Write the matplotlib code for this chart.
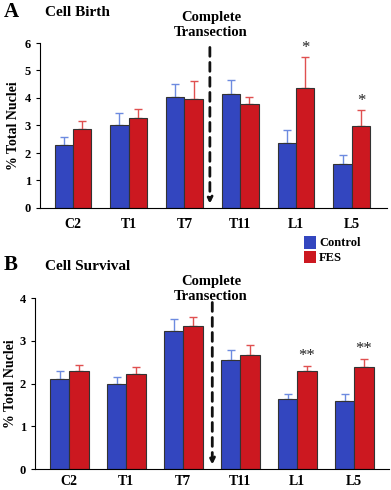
import matplotlib
matplotlib.use("Agg")
import matplotlib.pyplot as plt
import numpy as np
from matplotlib.patches import Patch

categories = ["C2", "T1", "T7", "T11", "L1", "L5"]

birth_control = [2.30, 3.00, 4.05, 4.15, 2.37, 1.60]
birth_control_err = [0.27, 0.45, 0.45, 0.50, 0.47, 0.33]
birth_fes = [2.87, 3.28, 3.97, 3.78, 4.36, 2.98]
birth_fes_err = [0.28, 0.32, 0.66, 0.26, 1.13, 0.58]
birth_sig = ["", "", "", "", "*", "*"]

surv_control = [2.10, 1.98, 3.22, 2.55, 1.63, 1.59]
surv_control_err = [0.19, 0.17, 0.28, 0.24, 0.12, 0.16]
surv_fes = [2.29, 2.22, 3.34, 2.66, 2.29, 2.39]
surv_fes_err = [0.14, 0.17, 0.21, 0.23, 0.12, 0.18]
surv_sig = ["", "", "", "", "**", "**"]

plt.rcParams['font.family'] = ['Liberation Serif', 'DejaVu Serif']
W, H = 391, 490
fig = plt.figure(figsize=(W/100, H/100), dpi=100)

BLUE = "#3346BF"
RED = "#CC1820"
BLUE_ERR = "#6D8BE0"
RED_ERR = "#E05050"

def px_axes(left, right, top, bottom):
    return fig.add_axes([left/W, 1-bottom/H, (right-left)/W, (bottom-top)/H])

def draw(ax, ctrl, ctrl_e, fes, fes_e, sig, ymax, xlim, bw, cut_x, star_off, pad):
    x = np.arange(len(categories))
    ax.bar(x - bw/2, ctrl, bw, color=BLUE, edgecolor="#333333", linewidth=0.8, zorder=2)
    ax.bar(x + bw/2, fes, bw, color=RED, edgecolor="#333333", linewidth=0.8, zorder=2)
    ax.errorbar(x - bw/2, ctrl, yerr=[np.zeros(len(x)), ctrl_e], fmt="none",
                ecolor=BLUE_ERR, elinewidth=1.0, capsize=3, capthick=1.0, zorder=1)
    ax.errorbar(x + bw/2, fes, yerr=[np.zeros(len(x)), fes_e], fmt="none",
                ecolor=RED_ERR, elinewidth=1.0, capsize=3, capthick=1.0, zorder=1)
    for i, s in enumerate(sig):
        if s:
            ax.text(x[i] + bw/2, fes[i] + fes_e[i] + star_off, s, ha="center", va="bottom",
                    fontsize=12, color="#222222")
    ax.set_xlim(*xlim)
    ax.set_ylim(0, ymax)
    ax.set_yticks(range(0, ymax+1))
    ax.set_xticks(x)
    ax.set_xticklabels(categories, fontsize=10, fontweight="bold")
    ax.tick_params(axis="x", length=0, pad=pad)
    ax.tick_params(axis="y", length=3, labelsize=9, direction="out")
    for lab in ax.get_yticklabels():
        lab.set_fontweight("bold")
    ax.spines["top"].set_visible(False)
    ax.spines["right"].set_visible(False)
    ax.set_ylabel("% Total Nuclei", fontsize=10, fontweight="bold")
    ax.annotate("", xy=(cut_x, ymax*0.01), xytext=(cut_x, ymax*0.99),
                arrowprops=dict(arrowstyle="-|>", linestyle=(0, (3.2, 2.2)), lw=2.0,
                                color="#111111", mutation_scale=8), zorder=3)

# Panel A
axA = px_axes(40, 387, 43, 208)
draw(axA, birth_control, birth_control_err, birth_fes, birth_fes_err, birth_sig,
     6, (-0.59, 5.63), 0.33, 2.455, 0.05, 7)
axA.yaxis.set_label_coords(-20/347, 0.5)

# Panel B
axB = px_axes(35, 389, 298, 469)
draw(axB, surv_control, surv_control_err, surv_fes, surv_fes_err, surv_sig,
     4, (-0.6, 5.61), 0.34, 2.51, 0.05, 4)
axB.yaxis.set_label_coords(-18/354, 0.5)

def ftext(xp, yp, s, **kw):
    fig.text(xp/W, 1-yp/H, s, **kw)

ftext(4, 12, "A", fontsize=15, fontweight="bold", va="center")
ftext(45, 12, "Cell Birth", fontsize=11, fontweight="bold", va="center")
ftext(211, 25, "Complete\nTransection", fontsize=10.5, fontweight="bold",
      va="center", ha="center", linespacing=1.25)
ftext(4, 265, "B", fontsize=15, fontweight="bold", va="center")
ftext(45, 266, "Cell Survival", fontsize=11, fontweight="bold", va="center")
ftext(211, 289, "Complete\nTransection", fontsize=10.5, fontweight="bold",
      va="center", ha="center", linespacing=1.25)

handles = [Patch(facecolor=BLUE, edgecolor="none"), Patch(facecolor=RED, edgecolor="none")]
fig.legend(handles, ["Control", "FES"], loc="center left",
           bbox_to_anchor=(298/W, 1-250/H), frameon=False,
           prop={"weight": "bold", "size": 9}, handlelength=0.9, handleheight=1.2,
           handletextpad=0.3, labelspacing=0.1, borderpad=0)

fig.savefig("out.png", dpi=100)
